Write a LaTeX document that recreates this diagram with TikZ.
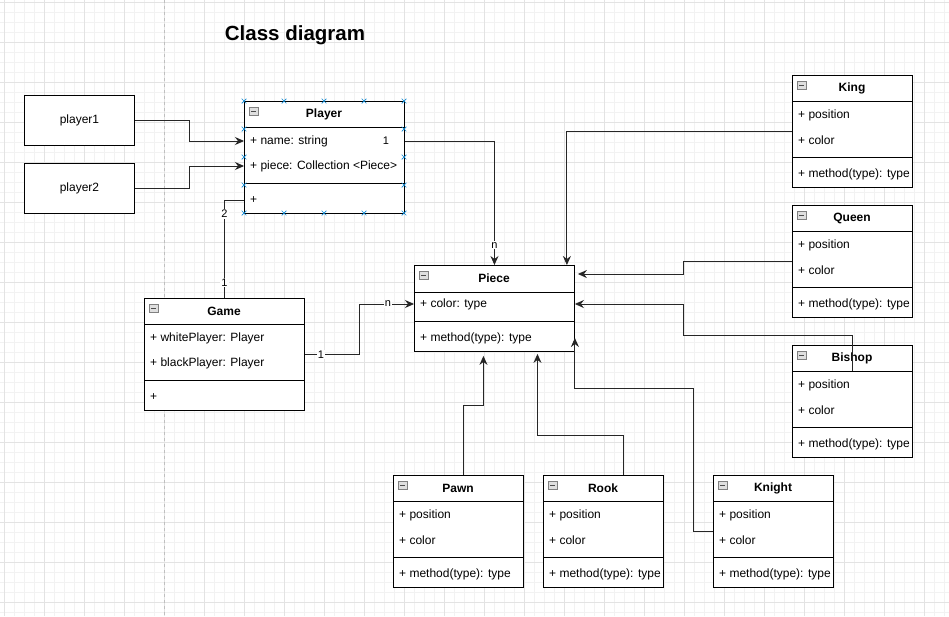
\documentclass[tikz,border=0pt]{standalone}
\usepackage{fontspec}
\setmainfont{Liberation Sans}
\usetikzlibrary{arrows.meta,shapes.misc}
\begin{document}
\begin{tikzpicture}[x=1pt, y=-1pt,
	box/.style={draw, fill=white, line width=.9pt, inner sep=0, anchor=north west},
	plainbox/.style={box, minimum width=110pt, minimum height=50pt, font=\fontsize{12}{14}\selectfont},
	ttl/.style={inner sep=0, font=\fontsize{12}{14}\selectfont\bfseries},
	attr/.style={anchor=west, inner sep=0, font=\fontsize{12}{14}\selectfont},
	icon/.style={draw=gray, fill=gray!25, line width=.6pt},
	link/.style={draw=black!85, line width=.9pt, -{Stealth[length=9pt, width=8pt, inset=3pt]}},
	lbl/.style={fill=white, inner sep=1pt, font=\fontsize{11}{13}\selectfont},
	handle/.style={cross out, draw=cyan!70!blue, line width=.7pt, minimum size=4pt, inner sep=0}]
	\useasboundingbox (0,0) rectangle (949,616);
	\fill[white] (0,0) rectangle (949,616);
	% grid
	\foreach \i in {4,14,...,944}
		\draw[black!5] (\i,0) -- (\i,616);
	\foreach \j in {2,12,...,612}
		\draw[black!5] (0,\j) -- (949,\j);
	\foreach \i in {4,44,...,924}
		\draw[black!11] (\i,0) -- (\i,616);
	\foreach \j in {2,42,...,602}
		\draw[black!11] (0,\j) -- (949,\j);
	\draw[black!25, dashed] (164,0) -- (164,616);
	\node[font=\fontsize{20.5}{24}\selectfont\bfseries] (title) at (295,35) {Class diagram};
	\node[plainbox] (player1) at (24,95) {player1};
	\node[plainbox] (player2) at (24,163) {player2};
	% classes
	\foreach \n/\x/\y/\w/\a/\b/\c in {Player/244/101/160/{+ name: string}/{+ piece: Collection <Piece>}/+,
			Game/144/298/160/{+ whitePlayer: Player}/{+ blackPlayer: Player}/+,
			King/792/75/120/+ position/+ color/{+ method(type): type},
			Queen/792/205/120/+ position/+ color/{+ method(type): type},
			Bishop/792/345/120/+ position/+ color/{+ method(type): type},
			Pawn/393/475/130/+ position/+ color/{+ method(type): type},
			Rook/543/475/120/+ position/+ color/{+ method(type): type},
			Knight/713/475/120/+ position/+ color/{+ method(type): type}} {
		\node[box, minimum width=\w pt, minimum height=112pt] (\n) at (\x,\y) {};
		\draw[line width=.9pt] (\x,\y+26) -- ++(\w,0);
		\draw[line width=.9pt] (\x,\y+82) -- ++(\w,0);
		\draw[icon] (\x+5,\y+6) rectangle ++(9,8);
		\draw[gray!60!black, line width=.6pt] (\x+7,\y+10) -- ++(5,0);
		\node[ttl] (\n-t) at (\x+\w/2,\y+13) {\n};
		\node[attr] (\n-a1) at (\x+6,\y+40) {\a};
		\node[attr] (\n-a2) at (\x+6,\y+65) {\b};
		\node[attr] (\n-m) at (\x+6,\y+99) {\c};
	}
	\node[box, minimum width=160pt, minimum height=86pt] (Piece) at (414,265) {};
	\draw[line width=.9pt] (414,292) -- (574,292);
	\draw[line width=.9pt] (414,321) -- (574,321);
	\draw[icon] (419,271) rectangle ++(9,8);
	\draw[gray!60!black, line width=.6pt] (421,275) -- ++(5,0);
	\node[ttl] (Piece-t) at (494,278) {Piece};
	\node[attr] (Piece-a1) at (420,304) {+ color: type};
	\node[attr] (Piece-m) at (420,338) {+ method(type): type};
	% connectors
	\draw[link] (player1.east) -- ++(55,0) |- (Player.west |- Player-a1);
	\draw[link] (player2.east) -- ++(55,0) |- (Player.west |- Player-a2);
	\draw[draw=black!85, line width=.9pt] (Player.west |- Player-m) -| node[lbl, pos=.57] {2} node[lbl, pos=.92] {1} (Game.north);
	\draw[link] (Player.east |- Player-a1) node[lbl, xshift=-19pt] {1} -| node[lbl, pos=.92] {n} (Piece.north);
	\draw[link] (Game.east) -- node[lbl, pos=.29] {1} ++(55,0) |- node[lbl, pos=.76] {n} (Piece.west |- Piece-a1);
	\draw[link] (King.west) -| ([xshift=-8pt]Piece.north east);
	\draw[link, shorten >=3pt] (Queen.west) -- ++(-109,0) |- ([yshift=-9pt]Piece.north east);
	\draw[link] ([yshift=-26pt]Bishop.north) -- ++(0,-36) -- ++(-169,0) |- (Piece.east |- Piece-a1);
	\draw[link] (Knight.west) -- ++(-20,0) -- ++(0,-143) -| (Piece.east |- Piece-m);
	\draw[link, shorten >=4pt] ([xshift=5pt]Pawn.north) -- ++(0,-70) -| ([xshift=-11pt]Piece.south);
	\draw[link, shorten >=2pt] ([xshift=20pt]Rook.north) -- ++(0,-40) -| ([xshift=43pt]Piece.south);
	% selection handles
	\foreach \x in {244,284,...,404} {
		\node[handle] (ht\x) at (\x,101) {};
		\node[handle] (hb\x) at (\x,213) {};
	}
	\foreach \y in {129,157,185} {
		\node[handle] (hl\y) at (244,\y) {};
		\node[handle] (hr\y) at (404,\y) {};
	}
\end{tikzpicture}
\end{document}
